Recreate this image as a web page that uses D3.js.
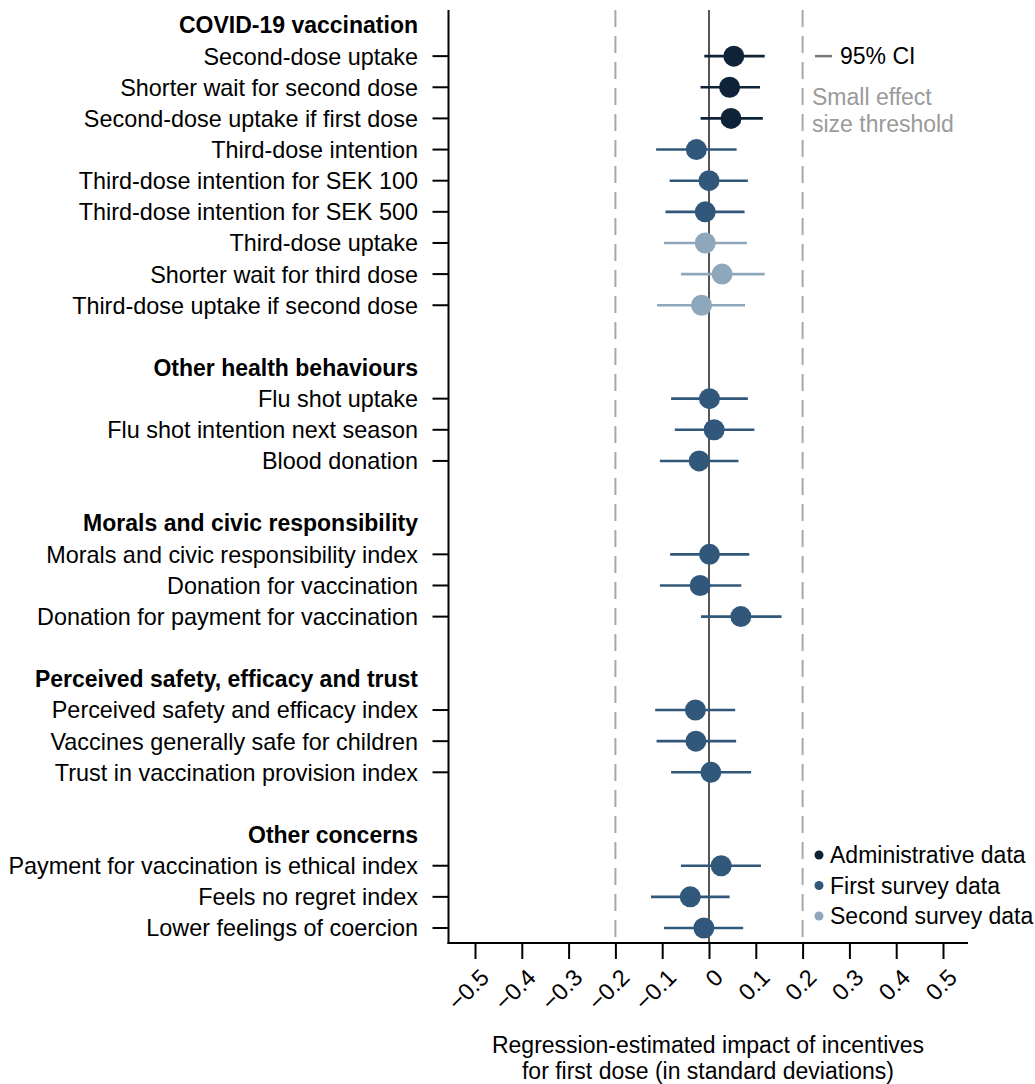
<!DOCTYPE html>
<html lang="en">
<head>
  <meta charset="UTF-8">
  <title>Incentives forest plot</title>
  <script src="https://d3js.org/d3.v7.min.js"></script>
  <style>
    * { margin: 0; padding: 0; box-sizing: border-box; }
    body { background: #fff; font-family: "Liberation Sans", Arial, Helvetica, sans-serif; }
    svg text { font-family: "Liberation Sans", Arial, Helvetica, sans-serif; }
  </style>
</head>
<body>
  <div id="chart"></div>

  <script>
    // row labels, top to bottom (null = empty spacer row, "#" prefix = group header)
    const rows = [
      "#COVID-19 vaccination",
      "Second-dose uptake",
      "Shorter wait for second dose",
      "Second-dose uptake if first dose",
      "Third-dose intention",
      "Third-dose intention for SEK 100",
      "Third-dose intention for SEK 500",
      "Third-dose uptake",
      "Shorter wait for third dose",
      "Third-dose uptake if second dose",
      null,
      "#Other health behaviours",
      "Flu shot uptake",
      "Flu shot intention next season",
      "Blood donation",
      null,
      "#Morals and civic responsibility",
      "Morals and civic responsibility index",
      "Donation for vaccination",
      "Donation for payment for vaccination",
      null,
      "#Perceived safety, efficacy and trust",
      "Perceived safety and efficacy index",
      "Vaccines generally safe for children",
      "Trust in vaccination provision index",
      null,
      "#Other concerns",
      "Payment for vaccination is ethical index",
      "Feels no regret index",
      "Lower feelings of coercion"
    ];

    // outcomes with estimates (same order as the non-header rows)
    const outcomes = [
      "Second-dose uptake", "Shorter wait for second dose", "Second-dose uptake if first dose",
      "Third-dose intention", "Third-dose intention for SEK 100", "Third-dose intention for SEK 500",
      "Third-dose uptake", "Shorter wait for third dose", "Third-dose uptake if second dose",
      "Flu shot uptake", "Flu shot intention next season", "Blood donation",
      "Morals and civic responsibility index", "Donation for vaccination", "Donation for payment for vaccination",
      "Perceived safety and efficacy index", "Vaccines generally safe for children", "Trust in vaccination provision index",
      "Payment for vaccination is ethical index", "Feels no regret index", "Lower feelings of coercion"
    ];
    const estimates = [0.053, 0.044, 0.047, -0.027, 0.000, -0.008, -0.008, 0.028, -0.016,
                       0.001, 0.011, -0.021, 0.001, -0.019, 0.068, -0.029, -0.028, 0.004,
                       0.026, -0.040, -0.011];
    const ciLow = [-0.010, -0.018, -0.018, -0.113, -0.084, -0.093, -0.096, -0.060, -0.111,
                   -0.081, -0.073, -0.105, -0.083, -0.105, -0.017, -0.115, -0.112, -0.081,
                   -0.060, -0.124, -0.096];
    const ciHigh = [0.119, 0.109, 0.115, 0.059, 0.083, 0.076, 0.081, 0.119, 0.077,
                    0.083, 0.097, 0.063, 0.086, 0.069, 0.155, 0.056, 0.058, 0.090,
                    0.111, 0.044, 0.073];
    const sources = ["admin", "admin", "admin", "first", "first", "first", "second", "second", "second",
                     "first", "first", "first", "first", "first", "first", "first", "first", "first",
                     "first", "first", "first"];

    const sourceKeys = ["admin", "first", "second"];
    const sourceNames = ["Administrative data", "First survey data", "Second survey data"];
    const sourceColors = ["#0f2338", "#31587b", "#8fa7bb"];

    const xTicks = [-0.5, -0.4, -0.3, -0.2, -0.1, 0, 0.1, 0.2, 0.3, 0.4, 0.5];
    const xTickLabels = ["\u22120.5", "\u22120.4", "\u22120.3", "\u22120.2", "\u22120.1", "0",
                         "0.1", "0.2", "0.3", "0.4", "0.5"];
    const threshold = 0.2;

    const W = 1035, H = 1084;
    const axisX = 448.5, axisY = 943;
    const fs = 23;

    const svg = d3.select("#chart").append("svg")
      .attr("width", W).attr("height", H);

    const x = d3.scaleLinear().domain([-0.5, 0.5]).range([475, 943]);
    const y = d3.scaleLinear().domain([0, rows.length - 1]).range([25, 928]);

    const data = outcomes.map((name, i) => ({
      name, est: estimates[i], lo: ciLow[i], hi: ciHigh[i], src: sources[i],
      row: rows.indexOf(name)
    }));

    const color = d3.scaleOrdinal().domain(sourceKeys).range(sourceColors);

    // threshold lines
    svg.selectAll(".thr")
      .data([-threshold, threshold])
      .enter().append("line")
      .attr("x1", d => x(d)).attr("x2", d => x(d))
      .attr("y1", 10).attr("y2", axisY)
      .attr("stroke", "#a8a8a8")
      .attr("stroke-width", 2)
      .attr("stroke-dasharray", "17,9");

    // zero line
    svg.append("line")
      .attr("x1", x(0)).attr("x2", x(0))
      .attr("y1", 10).attr("y2", axisY)
      .attr("stroke", "#555")
      .attr("stroke-width", 2);

    // y axis
    svg.append("line")
      .attr("x1", axisX).attr("x2", axisX)
      .attr("y1", 10).attr("y2", axisY + 1)
      .attr("stroke", "#000").attr("stroke-width", 2);

    svg.selectAll(".ytick")
      .data(data)
      .enter().append("line")
      .attr("x1", axisX - 16).attr("x2", axisX)
      .attr("y1", d => y(d.row)).attr("y2", d => y(d.row))
      .attr("stroke", "#000").attr("stroke-width", 2);

    svg.selectAll(".ylab")
      .data(rows.map((r, i) => ({ r, i })).filter(d => d.r))
      .enter().append("text")
      .attr("x", 418)
      .attr("y", d => y(d.i))
      .attr("dy", "0.36em")
      .attr("text-anchor", "end")
      .style("font-size", d => d.r.startsWith("#") ? fs + "px" : "23.4px")
      .style("font-weight", d => d.r.startsWith("#") ? "bold" : "normal")
      .attr("fill", "#000")
      .text(d => d.r.replace(/^#/, ""));

    // x axis
    const xAxis = svg.append("g")
      .attr("transform", `translate(0,${axisY})`)
      .call(d3.axisBottom(x).tickValues(xTicks).tickSize(16)
        .tickFormat((d, i) => xTickLabels[i]));
    xAxis.select(".domain").remove();
    xAxis.selectAll(".tick line").attr("stroke", "#000").attr("stroke-width", 2);
    xAxis.selectAll(".tick text")
      .attr("x", 0).attr("y", 0).attr("dy", "0.36em")
      .attr("transform", "translate(9,30) rotate(-45)")
      .attr("text-anchor", "end")
      .attr("fill", "#000")
      .style("font-size", "23.5px")
      .style("font-family", "'Liberation Sans', Arial, sans-serif");

    svg.append("line")
      .attr("x1", axisX - 1).attr("x2", 968)
      .attr("y1", axisY).attr("y2", axisY)
      .attr("stroke", "#000").attr("stroke-width", 2);

    // confidence intervals
    svg.selectAll(".ci")
      .data(data)
      .enter().append("line")
      .attr("x1", d => x(d.lo)).attr("x2", d => x(d.hi))
      .attr("y1", d => y(d.row)).attr("y2", d => y(d.row))
      .attr("stroke", d => color(d.src))
      .attr("stroke-width", 2.6);

    svg.selectAll(".dot")
      .data(data)
      .enter().append("circle")
      .attr("cx", d => x(d.est))
      .attr("cy", d => y(d.row))
      .attr("r", 10.5)
      .attr("fill", d => color(d.src));

    // CI / threshold annotation
    svg.append("line")
      .attr("x1", 815).attr("x2", 832)
      .attr("y1", y(1)).attr("y2", y(1))
      .attr("stroke", "#777").attr("stroke-width", 2.5);
    svg.append("text")
      .attr("x", 840).attr("y", y(1)).attr("dy", "0.36em")
      .style("font-size", fs + "px").attr("fill", "#000")
      .text("95% CI");
    svg.append("text")
      .attr("x", 812).attr("y", 97).attr("dy", "0.36em")
      .style("font-size", fs + "px").attr("fill", "#9a9a9a")
      .text("Small effect");
    svg.append("text")
      .attr("x", 812).attr("y", 124).attr("dy", "0.36em")
      .style("font-size", fs + "px").attr("fill", "#9a9a9a")
      .text("size threshold");

    // source legend
    const leg = svg.selectAll(".leg")
      .data(sourceKeys)
      .enter().append("g")
      .attr("transform", (d, i) => `translate(819,${855 + i * 30.5})`);
    leg.append("circle").attr("r", 4.5).attr("fill", d => color(d));
    leg.append("text")
      .attr("x", 11).attr("dy", "0.36em")
      .style("font-size", fs + "px").attr("fill", "#000")
      .text((d, i) => sourceNames[i]);

    // axis title
    svg.append("text")
      .attr("x", 708).attr("y", 1045).attr("dy", "0.36em")
      .attr("text-anchor", "middle")
      .style("font-size", fs + "px").attr("fill", "#000")
      .text("Regression-estimated impact of incentives");
    svg.append("text")
      .attr("x", 708).attr("y", 1071).attr("dy", "0.36em")
      .attr("text-anchor", "middle")
      .style("font-size", fs + "px").attr("fill", "#000")
      .text("for first dose (in standard deviations)");
  </script>
</body>
</html>
